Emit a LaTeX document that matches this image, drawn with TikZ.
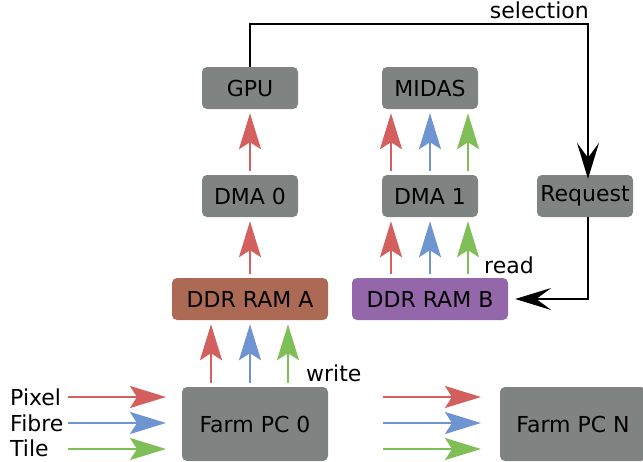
\documentclass[tikz,border=0pt]{standalone}
\usepackage{fontspec}
\setmainfont{DejaVu Sans}
\usetikzlibrary{arrows.meta}
\definecolor{boxgray}{HTML}{7F8482}
\definecolor{pxred}{HTML}{D35F5F}
\definecolor{fbblue}{HTML}{6F94D2}
\definecolor{tlgreen}{HTML}{80BE58}
\definecolor{ramA}{HTML}{AC6953}
\definecolor{ramB}{HTML}{9467AB}
\tikzset{
  unit/.style={draw=none,fill=boxgray,rounded corners=5pt,minimum width=96pt,minimum height=42pt,inner sep=0pt},
  ram/.style={unit,minimum width=156pt},
  farm/.style={unit,minimum width=146pt,minimum height=74pt},
  flow/.style={line width=2.5pt,shorten <=4pt,shorten >=4pt,-{Stealth[length=36pt,width=22pt,inset=7pt]}},
  ctrl/.style={line width=2.6pt,-{Stealth[length=36pt,width=22pt,inset=15pt]}}
}

\begin{document}
\begin{tikzpicture}[x=1pt,y=-1pt,font=\fontsize{22}{26}\selectfont]
  \useasboundingbox (0,0) rectangle (643,461);
  % boxes
  \node[unit] (gpu) at (250,88) {GPU};
  \node[unit] (midas) at (430,88) {MIDAS};
  \node[unit] (dma0) at (250,196) {DMA 0};
  \node[unit] (dma1) at (430,196) {DMA 1};
  \node[unit] (req) at (585,196) {Request};
  \node[ram,fill=ramA] (ramA) at (250,299) {DDR RAM A};
  \node[ram,fill=ramB] (ramB) at (430,299) {DDR RAM B};
  \node[farm] (pc0) at (255,424) {Farm PC 0};
  \node[farm] (pcN) at (573,424) {Farm PC N};
  % inputs
  \node[anchor=base west,inner sep=0pt] (pix) at (10,405) {Pixel};
  \node[anchor=base west,inner sep=0pt] (fib) at (10,431) {Fibre};
  \node[anchor=base west,inner sep=0pt] (til) at (10,456) {Tile};
  \draw[flow,pxred] (64,397) -- (170,397);
  \draw[flow,fbblue] (64,423) -- (170,423);
  \draw[flow,tlgreen] (64,449) -- (170,449);
  \draw[flow,pxred] (379,397) -- (485,397);
  \draw[flow,fbblue] (379,423) -- (485,423);
  \draw[flow,tlgreen] (379,449) -- (485,449);
  % write
  \draw[flow,pxred] ([xshift=-44pt]pc0.north) -- ([xshift=-39pt]ramA.south);
  \draw[flow,fbblue] ([xshift=-5pt]pc0.north) -- (ramA.south);
  \draw[flow,tlgreen] ([xshift=33pt]pc0.north) -- ([xshift=38pt]ramA.south);
  \node[anchor=west,inner sep=0pt] (wr) at (306,373) {write};
  % path A
  \draw[flow,pxred] (ramA) -- (dma0);
  \draw[flow,pxred] (dma0) -- (gpu);
  % path B
  \foreach \dx/\c in {-39/pxred,0/fbblue,38/tlgreen}{
    \draw[flow,\c] ([xshift=\dx pt]ramB.north) -- ([xshift=\dx pt]dma1.south);
    \draw[flow,\c] ([xshift=\dx pt]dma1.north) -- ([xshift=\dx pt]midas.south);
  }
  \node[anchor=west,inner sep=0pt] (rd) at (484,265) {read};
  % control
  \coordinate (top) at (588,24);
  \draw[ctrl] (gpu.north) |- (top) -- ([xshift=3pt,yshift=-4pt]req.north);
  \node[anchor=base east,inner sep=0pt] (sel) at (589,18) {selection};
  \draw[ctrl] ([xshift=3pt]req.south) |- ([xshift=7pt]ramB.east);
\end{tikzpicture}
\end{document}
